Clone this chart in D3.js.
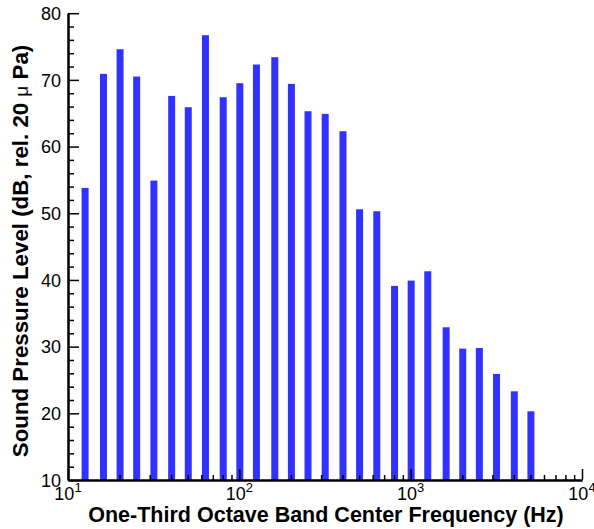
<!DOCTYPE html>
<html><head><meta charset="utf-8">
<script src="https://cdn.jsdelivr.net/npm/d3@7"></script>
<style>body{margin:0;background:#fff}svg{display:block}text{font-family:"Liberation Sans",Arial,sans-serif}</style>
</head><body><svg id="c" width="594" height="529"></svg>
<script>
const freqs = [12.5,16,20,25,31.5,40,50,63,80,100,125,160,200,250,315,400,500,630,800,1000,1250,1600,2000,2500,3150,4000,5000];
const spl = [53.8,70.9,74.6,70.5,54.9,67.6,65.9,76.7,67.4,69.5,72.3,73.4,69.4,65.3,64.9,62.3,50.6,50.3,39.1,39.9,41.3,32.9,29.7,29.8,25.9,23.3,20.3];
const yMajor = [10,20,30,40,50,60,70,80];
const xDecadeExp = [1,2,3,4];
const xTitle = "One-Third Octave Band Center Frequency (Hz)";
const yTitleA = "Sound Pressure Level (dB, rel. 20 ";
const yTitleMu = "\u03bc";
const yTitleB = " Pa)";

const svg = d3.select("#c");
const L=68, R=582, T=13.2, B=480;
const x = d3.scaleLog().domain([10,1e4]).range([L,R]);
const y = d3.scaleLinear().domain([10,80]).range([B,T]);
const barW = 7;

svg.append("g").selectAll("rect").data(freqs).join("rect")
  .attr("x", d=>x(d)-barW/2+0.5).attr("width", barW)
  .attr("y", (d,i)=>y(spl[i])).attr("height",(d,i)=>B-y(spl[i]))
  .attr("fill","#3232ff");

// Y axis
const yMinor = d3.range(10,80.1,2).filter(v=>v%10!==0);
const gy = svg.append("g").attr("transform",`translate(${L},0)`);
gy.call(d3.axisLeft(y).tickValues(yMajor).tickSizeInner(-11).tickSizeOuter(0).tickPadding(7).tickFormat(d3.format("d")));
gy.append("g").call(d3.axisLeft(y).tickValues(yMinor).tickSizeInner(-6).tickSizeOuter(0).tickFormat(""));
gy.selectAll("path.domain").attr("stroke","#000").attr("stroke-width",2);
gy.selectAll(".tick line").attr("stroke","#000").attr("stroke-width",1.5);
gy.selectAll(".tick text").attr("font-size",18).attr("fill","#000").attr("dy","0.35em");
gy.select("g").selectAll("path.domain").remove();

// X axis
const xMajor = xDecadeExp.map(e=>Math.pow(10,e));
const xMinor = [];
for(let e=1;e<4;e++) for(let k=2;k<=9;k++) xMinor.push(k*Math.pow(10,e));
const gx = svg.append("g").attr("transform",`translate(0,${B})`);
gx.call(d3.axisBottom(x).tickValues(xMajor).tickSizeInner(-11).tickSizeOuter(0).tickFormat(""));
gx.append("g").call(d3.axisBottom(x).tickValues(xMinor).tickSizeInner(-5).tickSizeOuter(0).tickFormat(""));
gx.selectAll("path.domain").attr("stroke","#000").attr("stroke-width",2);
gx.select("g").selectAll("path.domain").remove();
gx.selectAll(".tick line").attr("stroke","#000").attr("stroke-width",1.5);
xDecadeExp.forEach(e=>{
  const t = gx.append("text").attr("x", x(Math.pow(10,e))).attr("y",20).attr("text-anchor","middle").attr("fill","#000").attr("font-size",18);
  t.append("tspan").text("10");
  t.append("tspan").attr("dy",-8).attr("font-size",13).text(String(e));
});

// Titles
svg.append("text").attr("x",(L+R)/2 + 1).attr("y",522).attr("text-anchor","middle")
  .attr("font-size",21.5).attr("font-weight","bold").attr("fill","#000").text(xTitle);
const yt = svg.append("text").attr("transform",`translate(28,251) rotate(-90)`)
  .attr("text-anchor","middle").attr("font-size",22.3).attr("font-weight","bold").attr("fill","#000");
yt.append("tspan").text(yTitleA);
yt.append("tspan").attr("font-weight","normal").attr("font-size",19).text(yTitleMu);
yt.append("tspan").text(yTitleB);
</script></body></html>
